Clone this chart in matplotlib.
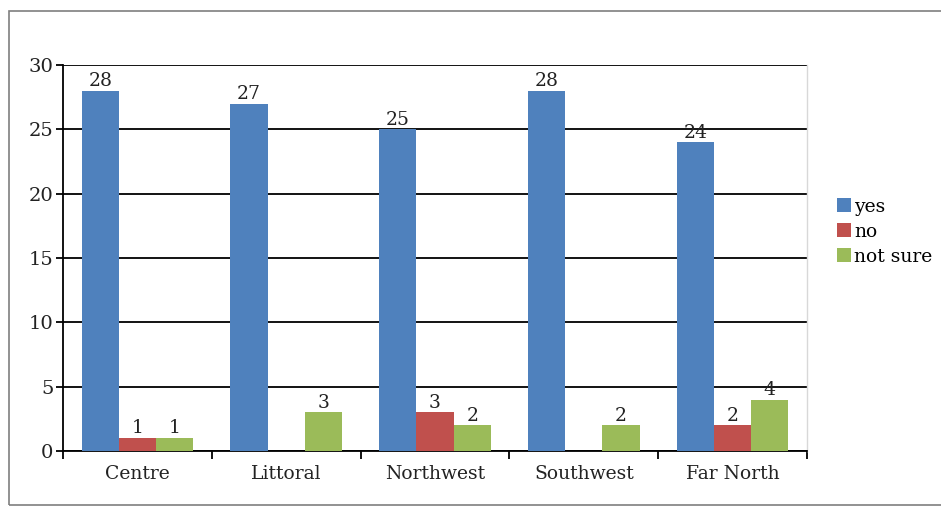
import matplotlib
matplotlib.use("Agg")
import matplotlib.pyplot as plt
import numpy as np
from matplotlib.patches import Rectangle

categories = ["Centre", "Littoral", "Northwest", "Southwest", "Far North"]
yes = [28, 27, 25, 28, 24]
no = [1, 0, 3, 0, 2]
not_sure = [1, 3, 2, 2, 4]
series_names = ["yes", "no", "not sure"]
colors = ["#4F81BD", "#C0504D", "#9BBB59"]

plt.rcParams['font.family'] = ['DejaVu Serif']

fig = plt.figure(figsize=(9.41, 5.15), dpi=100)
ax = fig.add_axes([63/941, 1-451/515, (807-63)/941, (451-65)/515])

x = np.arange(len(categories))
w = 0.25
for i, (vals, name, c) in enumerate(zip([yes, no, not_sure], series_names, colors)):
    bars = ax.bar(x + (i-1)*w, vals, w, color=c, label=name, zorder=3)
    for b, v in zip(bars, vals):
        if v != 0:
            ax.text(b.get_x()+b.get_width()/2, v + 0.05, str(v), ha='center', va='bottom',
                    fontsize=13.5, color='#222222', zorder=4)

ax.set_xlim(-0.5, len(categories)-0.5)
ax.set_ylim(0, 30)
ax.set_yticks(range(0, 31, 5))
ax.yaxis.grid(True, color='black', lw=1.3, zorder=1)
ax.set_axisbelow(True)
ax.set_xticks(x)
ax.set_xticklabels(categories, fontsize=13.5, color='#222222')
ax.tick_params(axis='x', length=0, pad=10)
ax.set_xticks(np.arange(-0.5, len(categories), 1), minor=True)
ax.tick_params(axis='x', which='minor', length=6, width=1.3, color='black', direction='out')
ax.tick_params(axis='y', length=5, width=1.3, color='black', labelsize=14, labelcolor='#222222', pad=2)
ax.spines['left'].set_color('black')
ax.spines['left'].set_linewidth(1.3)
ax.spines['bottom'].set_color('black')
ax.spines['bottom'].set_linewidth(1.3)
ax.spines['top'].set_visible(False)
ax.spines['right'].set_color('#d8d8d8')
ax.spines['right'].set_linewidth(1.0)

fig.legend(loc='upper left', bbox_to_anchor=(829/941, 1-190/515), frameon=False,
           fontsize=13.5, handlelength=0.75, handleheight=0.75, handletextpad=0.2,
           labelspacing=0.38, borderaxespad=0)

fig.patches.append(Rectangle((9/941, 1-505/515), 1 - 9/941 + 0.01, (505-11)/515,
                             transform=fig.transFigure, fill=False, edgecolor='#7f7f7f',
                             lw=1.2, zorder=0))
fig.savefig("out.png", dpi=100)
